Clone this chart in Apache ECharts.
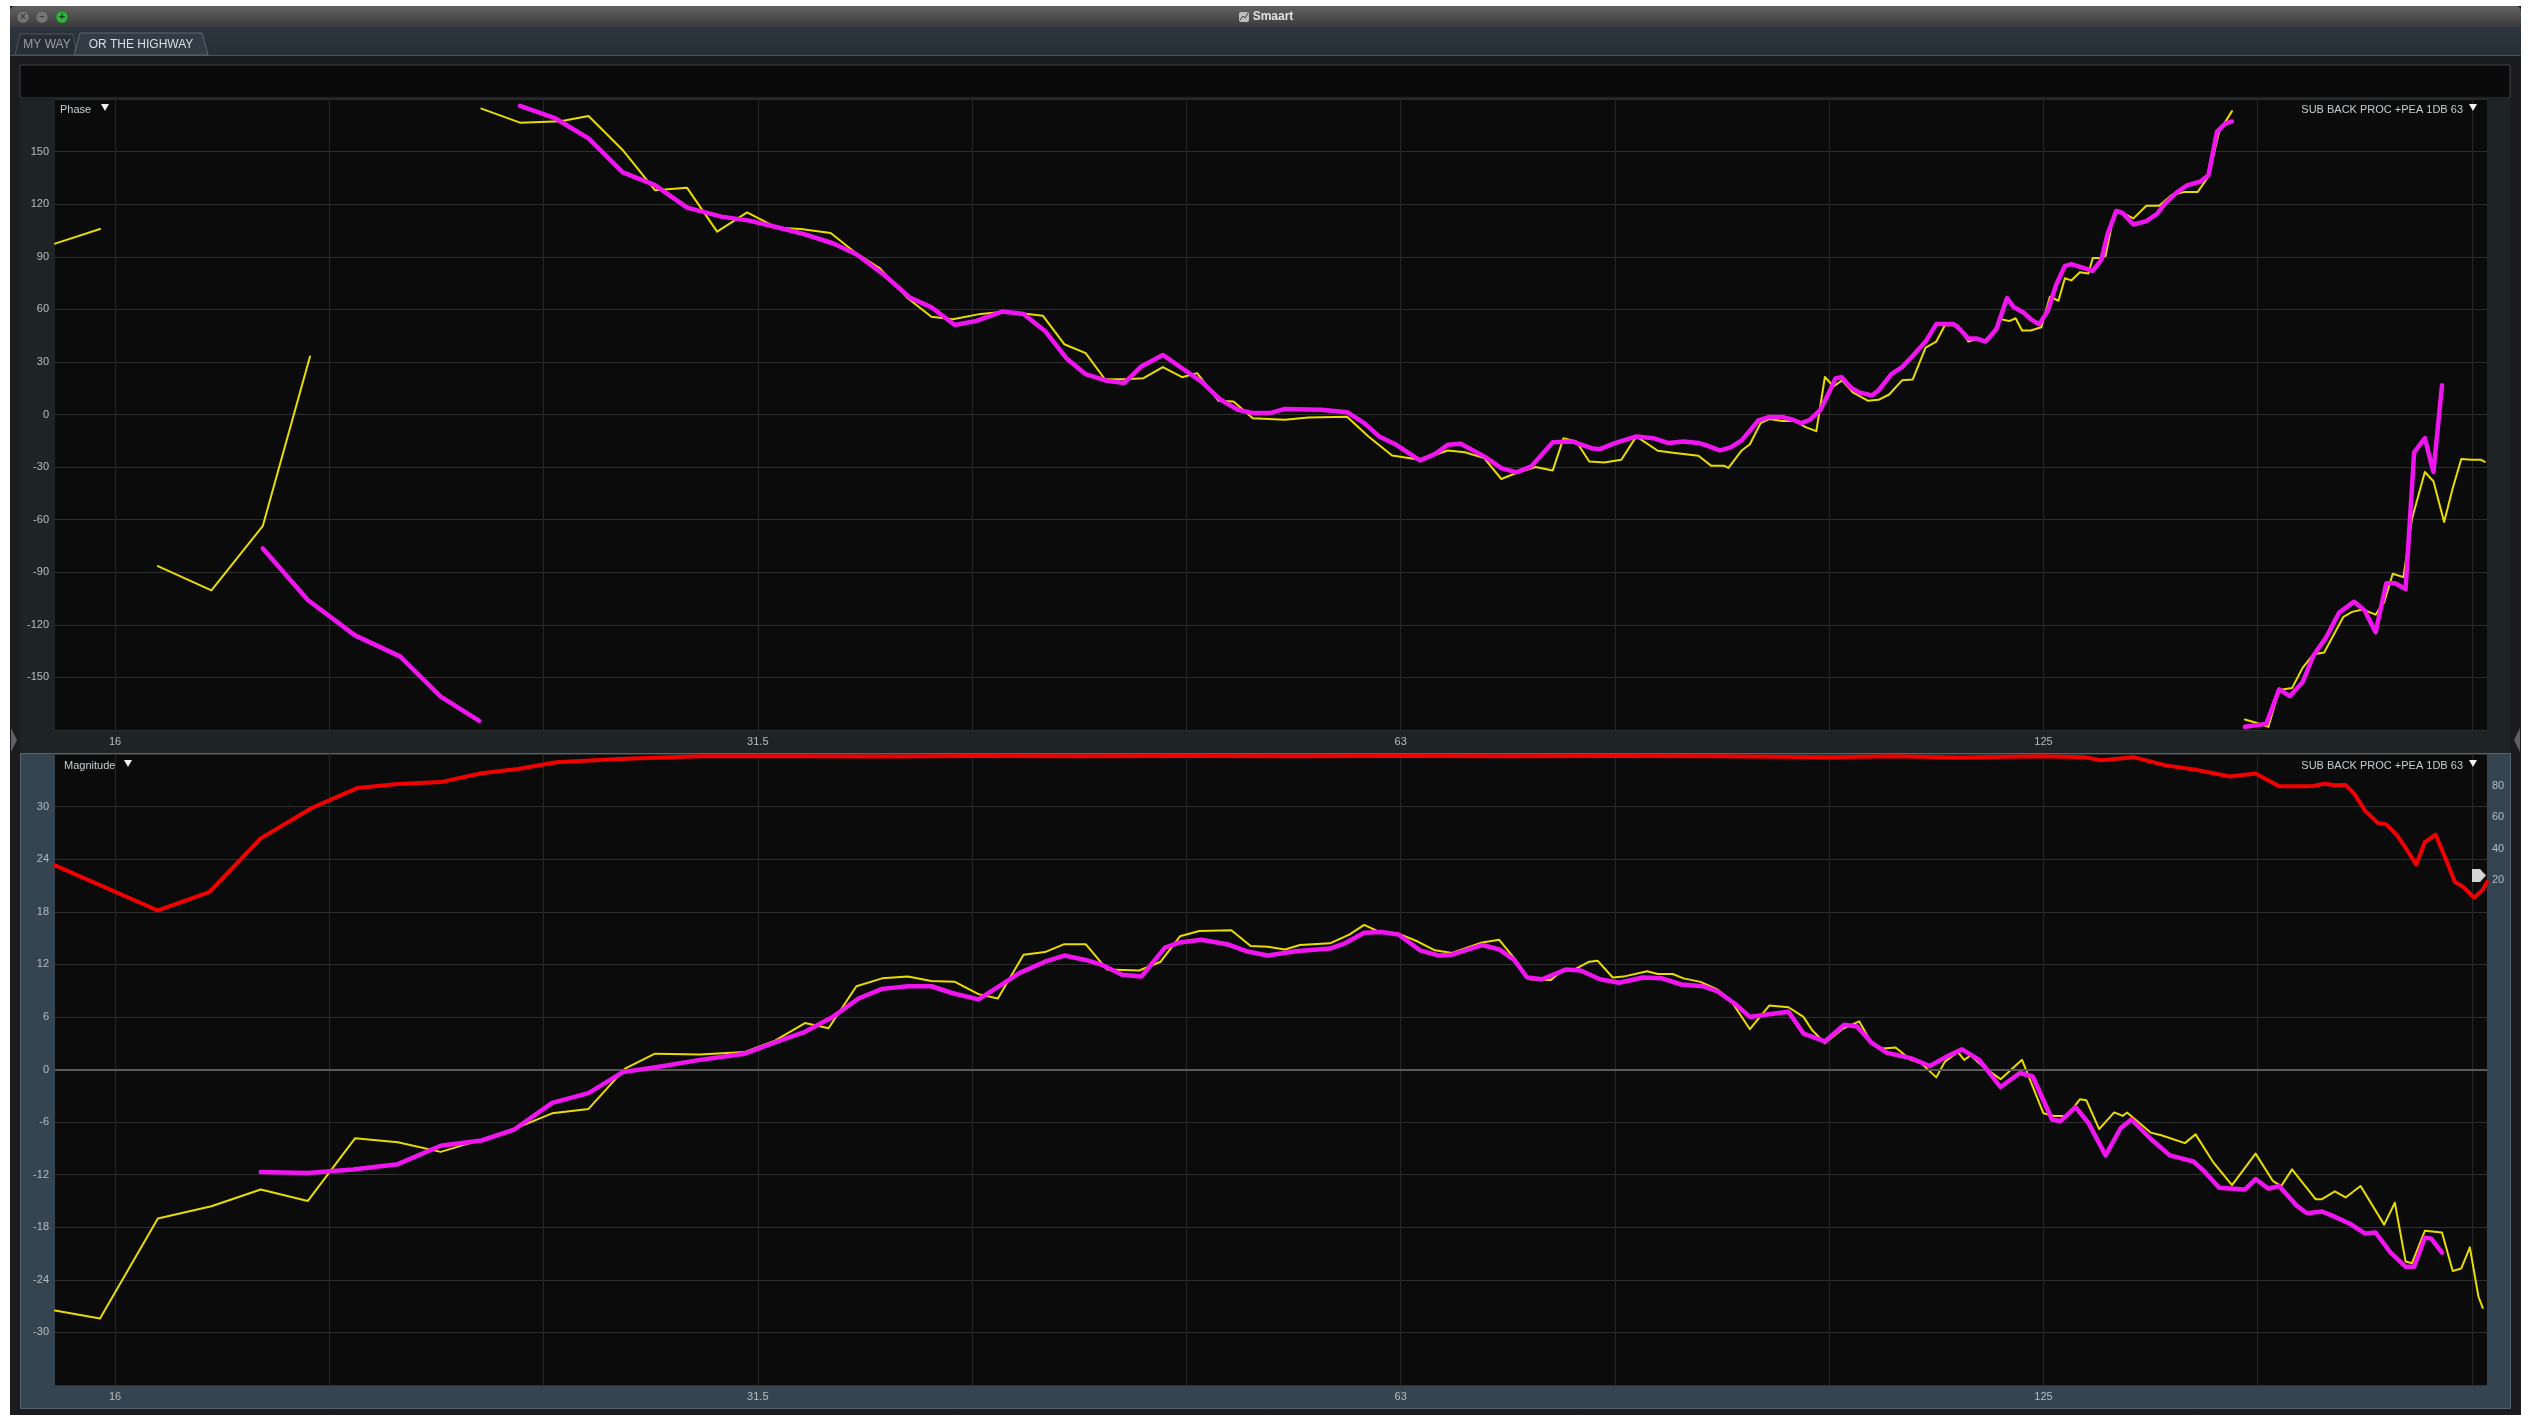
<!DOCTYPE html>
<html>
<head>
<meta charset="utf-8">
<script src="https://cdn.jsdelivr.net/npm/echarts@6/dist/echarts.min.js"></script>
<style>
  html, body { margin: 0; padding: 0; background: #ffffff; }
  #chart { width: 2536px; height: 1415px; }
</style>
</head>
<body>
<div id="chart"></div>
<script>
// Frequency positions are 1/3-octave band numbers (band = 10*log10(Hz)):
// band 12 = 16 Hz, 15 = 31.5 Hz, 18 = 63 Hz, 21 = 125 Hz.
const gridBands = [12, 13, 14, 15, 16, 17, 18, 19, 20, 21, 22, 23];
const freqLabelBands = [12, 15, 18, 21];
const freqLabels = ['16', '31.5', '63', '125'];
const bandMin = 11.72;
const bandMax = 23.07;

// ---- Phase (degrees), yellow trace, split where the phase wraps ----
const phaseYellowLow1 = [[11.72, 97.5], [11.93, 105.8]];
const phaseYellowLow2 = [[12.20, -86.5], [12.45, -100.3], [12.69, -63.5], [12.91, 33.1]];
const phaseYellowMain = [
  [13.71, 174.5], [13.89, 166.5], [14.08, 167.3], [14.21, 170.3], [14.37, 150.8], [14.52, 128], [14.67, 129.3],
  [14.81, 104.3], [14.95, 115.3], [15.09, 106.5], [15.20, 105.8], [15.34, 103.5], [15.46, 91.9], [15.57, 83.4],
  [15.70, 66.3], [15.81, 55.8], [15.91, 54.3], [16.04, 57.4], [16.16, 58.7], [16.33, 56.4], [16.43, 40.1],
  [16.53, 35], [16.62, 20.1], [16.71, 20.1], [16.80, 20.7], [16.89, 27], [16.98, 21.3], [17.05, 23.6],
  [17.15, 7.8], [17.22, 7.4], [17.31, -2.1], [17.46, -3], [17.57, -1.7], [17.75, -1.3], [17.85, -12.5],
  [17.96, -23.4], [18.09, -25.8], [18.22, -20.5], [18.30, -21.5], [18.39, -24.9], [18.47, -36.8], [18.54, -33.4],
  [18.63, -30], [18.71, -31.9], [18.76, -13.5], [18.82, -15.4], [18.88, -26.8], [18.95, -27.4], [19.03, -25.8],
  [19.10, -12.5], [19.20, -20.7], [19.28, -22], [19.39, -23.5], [19.45, -29.3], [19.51, -29.3], [19.53, -30.5],
  [19.59, -20.7], [19.63, -17], [19.68, -4.9], [19.72, -2.6], [19.78, -3.7], [19.84, -3.7], [19.89, -7.2],
  [19.94, -9.5], [19.98, 21.4], [20.02, 16], [20.06, 19.5], [20.11, 12.6], [20.18, 7.9], [20.23, 8.4],
  [20.28, 11.4], [20.34, 19.5], [20.39, 20], [20.45, 38.1], [20.50, 41.6], [20.54, 50.9], [20.60, 50.9],
  [20.65, 41.6], [20.68, 42.8], [20.73, 41.6], [20.77, 47.5], [20.80, 54.4], [20.84, 53.3], [20.87, 54.9],
  [20.90, 47.9], [20.94, 47.9], [20.99, 49.8], [21.03, 67.2], [21.07, 64.9], [21.10, 77.7], [21.13, 76.5],
  [21.17, 81.2], [21.21, 80.5], [21.23, 89.3], [21.27, 89.3], [21.29, 90.5], [21.33, 114.9], [21.37, 114.9],
  [21.42, 111.9], [21.48, 119.1], [21.54, 119.1], [21.60, 125.4], [21.66, 127], [21.72, 127], [21.77, 135.8],
  [21.82, 161.4], [21.88, 173.1]
];
const phaseYellowHigh = [
  [21.94, -174], [21.98, -175.4], [22.05, -178.2], [22.10, -157.2], [22.16, -156.1], [22.21, -144.4],
  [22.26, -136.8], [22.31, -135.8], [22.40, -115.4], [22.44, -112.6], [22.49, -111.2], [22.55, -114.2],
  [22.59, -107.2], [22.63, -90.9], [22.68, -92.8], [22.72, -59.5], [22.78, -32.8], [22.82, -38.1],
  [22.87, -61.4], [22.91, -42.1], [22.95, -25.4], [23.00, -25.8], [23.04, -25.8], [23.06, -27]
];

// ---- Phase (degrees), magenta trace ----
const phaseMagentaLow = [[12.69, -76.4], [12.90, -105.8], [13.12, -126], [13.33, -138], [13.52, -161], [13.70, -174.8]];
const phaseMagentaMain = [
  [13.89, 176.1], [14.05, 169.3], [14.21, 157.5], [14.37, 138.1], [14.52, 130.9], [14.67, 118], [14.83, 112.9],
  [14.96, 110.6], [15.09, 106.8], [15.22, 102.8], [15.35, 97.7], [15.46, 91.4], [15.59, 79.6], [15.71, 66.7],
  [15.81, 61.2], [15.92, 51.1], [16.02, 53.4], [16.14, 58.7], [16.24, 57.4], [16.34, 47.7], [16.44, 32.1],
  [16.53, 23], [16.63, 19.2], [16.71, 17.9], [16.79, 27.4], [16.89, 34], [16.98, 26.4], [17.07, 18.8],
  [17.16, 8.4], [17.24, 2.7], [17.31, 0.8], [17.39, 0.8], [17.46, 3.2], [17.63, 2.7], [17.75, 1.3],
  [17.83, -4.9], [17.90, -12.5], [17.98, -17.3], [18.09, -26.2], [18.16, -22.6], [18.22, -17.3], [18.28, -16.7],
  [18.39, -23.9], [18.47, -30.6], [18.54, -33], [18.61, -29.6], [18.71, -15.8], [18.80, -15.4], [18.89, -19.2],
  [18.93, -19.8], [19.00, -16.3], [19.10, -12.5], [19.18, -13.5], [19.25, -16.3], [19.32, -15.4], [19.39, -16.2],
  [19.43, -17.7], [19.49, -20.5], [19.54, -18.8], [19.59, -14.9], [19.62, -10.7], [19.67, -3.3], [19.72, -1.4],
  [19.78, -1.4], [19.83, -3], [19.87, -4.9], [19.91, -3], [19.96, 2.8], [19.99, 10.2], [20.03, 20.7],
  [20.06, 21.2], [20.10, 15.4], [20.14, 12.6], [20.20, 10.9], [20.23, 13.7], [20.29, 23], [20.34, 27],
  [20.39, 33.5], [20.45, 41.6], [20.50, 51.6], [20.58, 51.6], [20.61, 48.6], [20.65, 43.3], [20.69, 43.3],
  [20.73, 41.6], [20.78, 48.6], [20.83, 66.5], [20.86, 61.4], [20.91, 57.9], [20.94, 54.4], [20.98, 51.4],
  [21.02, 59.1], [21.06, 74.2], [21.10, 84.7], [21.13, 85.8], [21.19, 83.5], [21.23, 81.9], [21.27, 88.2],
  [21.30, 103.3], [21.34, 116.1], [21.37, 114.9], [21.42, 108.4], [21.48, 110.3], [21.53, 114.4], [21.57, 120.7],
  [21.62, 126.5], [21.67, 130.7], [21.73, 132.8], [21.77, 136.5], [21.81, 161.4], [21.85, 166.1], [21.88, 167.2]
];
const phaseMagentaHigh = [
  [21.94, -178.2], [22.04, -176.5], [22.10, -156.8], [22.15, -160.7], [22.21, -152.6], [22.26, -137.5],
  [22.32, -127], [22.38, -113], [22.45, -106.8], [22.50, -111.9], [22.55, -124.2], [22.60, -96.3],
  [22.64, -96.3], [22.69, -99.6], [22.73, -21.6], [22.78, -13.5], [22.82, -32.8], [22.86, 16.7]
];

// ---- Magnitude (dB) ----
const magYellow = [
  [11.72, -27.5], [11.93, -28.4], [12.20, -17.0], [12.45, -15.6], [12.68, -13.7], [12.90, -15.0], [13.12, -7.85],
  [13.32, -8.3], [13.52, -9.4], [13.71, -8.0], [13.88, -6.6], [14.04, -5.0], [14.21, -4.5], [14.38, 0.1],
  [14.52, 1.8], [14.73, 1.7], [14.94, 2.0], [15.08, 3.3], [15.22, 5.3], [15.33, 4.7], [15.46, 9.5],
  [15.58, 10.4], [15.70, 10.6], [15.81, 10.1], [15.92, 10.0], [16.03, 8.6], [16.12, 8.1], [16.24, 13.1],
  [16.34, 13.4], [16.43, 14.3], [16.53, 14.3], [16.63, 11.4], [16.78, 11.3], [16.88, 12.3], [16.97, 15.2],
  [17.06, 15.8], [17.21, 15.9], [17.30, 14.1], [17.38, 14.0], [17.46, 13.7], [17.53, 14.2], [17.67, 14.4],
  [17.76, 15.4], [17.83, 16.5], [17.90, 15.7], [17.99, 15.5], [18.08, 14.6], [18.16, 13.6], [18.24, 13.3],
  [18.38, 14.5], [18.46, 14.8], [18.53, 12.7], [18.60, 10.3], [18.70, 10.2], [18.76, 11.4], [18.81, 11.4],
  [18.88, 12.3], [18.92, 12.4], [18.99, 10.5], [19.04, 10.6], [19.15, 11.2], [19.20, 10.9], [19.27, 10.9],
  [19.32, 10.4], [19.40, 10.0], [19.48, 9.1], [19.54, 7.9], [19.63, 4.6], [19.72, 7.3], [19.81, 7.1],
  [19.88, 6.0], [19.92, 4.5], [19.98, 3.0], [20.06, 4.6], [20.14, 5.5], [20.20, 2.9], [20.25, 2.4],
  [20.31, 2.5], [20.38, 1.1], [20.43, 0.7], [20.50, -0.9], [20.54, 0.9], [20.60, 2.0], [20.63, 1.1],
  [20.66, 1.6], [20.73, 0.1], [20.80, -1.1], [20.90, 1.1], [21.00, -5.0], [21.05, -5.3], [21.11, -5.3],
  [21.17, -3.4], [21.20, -3.5], [21.26, -6.8], [21.33, -4.9], [21.37, -5.3], [21.39, -4.9], [21.50, -7.2],
  [21.55, -7.5], [21.66, -8.4], [21.71, -7.4], [21.79, -10.5], [21.88, -13.2], [21.99, -9.6], [22.07, -12.7],
  [22.11, -13.3], [22.16, -11.4], [22.27, -14.8], [22.30, -14.8], [22.36, -13.9], [22.41, -14.6], [22.48, -13.3],
  [22.59, -17.7], [22.64, -15.2], [22.69, -21.9], [22.72, -22.1], [22.78, -18.4], [22.86, -18.6], [22.91, -23.0],
  [22.95, -22.7], [22.99, -20.3], [23.03, -25.9], [23.05, -27.2]
];
const magMagenta = [
  [12.68, -11.7], [12.90, -11.8], [13.11, -11.4], [13.32, -10.8], [13.52, -8.7], [13.71, -8.1], [13.86, -6.9],
  [14.04, -3.8], [14.21, -2.7], [14.37, -0.3], [14.56, 0.4], [14.73, 1.1], [14.94, 1.8], [15.08, 3.1],
  [15.22, 4.3], [15.35, 6.0], [15.47, 8.1], [15.58, 9.2], [15.70, 9.5], [15.81, 9.5], [15.91, 8.7],
  [16.03, 8.0], [16.12, 9.4], [16.22, 11.0], [16.34, 12.3], [16.43, 13.0], [16.53, 12.5], [16.61, 11.9],
  [16.70, 10.8], [16.79, 10.6], [16.90, 13.9], [16.97, 14.5], [17.07, 14.8], [17.19, 14.3], [17.28, 13.5],
  [17.38, 13.0], [17.51, 13.5], [17.67, 13.8], [17.74, 14.4], [17.83, 15.6], [17.91, 15.7], [17.99, 15.4],
  [18.09, 13.6], [18.18, 13.0], [18.24, 13.1], [18.38, 14.2], [18.46, 13.7], [18.53, 12.5], [18.59, 10.5],
  [18.66, 10.3], [18.77, 11.4], [18.84, 11.3], [18.93, 10.3], [19.02, 9.9], [19.13, 10.5], [19.22, 10.4],
  [19.31, 9.7], [19.41, 9.5], [19.48, 8.9], [19.56, 7.5], [19.63, 6.0], [19.72, 6.3], [19.81, 6.6],
  [19.88, 4.1], [19.98, 3.2], [20.07, 5.1], [20.13, 4.9], [20.20, 3.0], [20.27, 1.9], [20.38, 1.3],
  [20.47, 0.4], [20.55, 1.5], [20.62, 2.3], [20.70, 1.1], [20.80, -2.0], [20.89, -0.4], [20.95, -0.8],
  [21.04, -5.7], [21.08, -5.9], [21.15, -4.3], [21.21, -6.1], [21.29, -9.8], [21.36, -6.7], [21.41, -5.7],
  [21.50, -7.9], [21.59, -9.8], [21.70, -10.5], [21.75, -11.6], [21.82, -13.5], [21.94, -13.7], [21.99, -12.5],
  [22.05, -13.6], [22.10, -13.3], [22.18, -15.5], [22.23, -16.4], [22.30, -16.2], [22.35, -16.7], [22.43, -17.6],
  [22.50, -18.7], [22.55, -18.6], [22.62, -20.9], [22.69, -22.5], [22.73, -22.5], [22.78, -19.2], [22.81, -19.3],
  [22.86, -20.9]
];

// ---- Coherence (%), right-hand scale ----
const coherence = [
  [11.72, 29.4], [12.20, 0.8], [12.44, 12.5], [12.68, 46.5], [12.92, 65.9], [13.13, 78.4], [13.32, 81],
  [13.52, 82.2], [13.71, 87.8], [13.88, 90.5], [14.06, 94.8], [14.35, 96.8], [14.73, 98.5], [15.2, 98.6],
  [15.6, 98.4], [16.0, 98.7], [16.5, 98.5], [17.0, 98.8], [17.5, 98.6], [18.0, 98.7], [18.5, 98.5],
  [19.0, 98.8], [19.5, 98.6], [20.0, 98.0], [20.3, 98.5], [20.6, 97.8], [21.0, 98.5], [21.19, 98],
  [21.27, 96], [21.42, 98], [21.57, 92.8], [21.72, 89.8], [21.87, 85.7], [21.99, 87.7], [22.10, 79.5],
  [22.20, 79.5], [22.26, 79.7], [22.31, 81.2], [22.36, 80.2], [22.41, 80.4], [22.45, 74.9], [22.50, 64.3],
  [22.56, 56.3], [22.60, 55.4], [22.65, 48.4], [22.69, 40.6], [22.74, 29.9], [22.78, 44.2], [22.83, 48.9],
  [22.88, 32.6], [22.92, 18.8], [22.96, 15.7], [23.01, 8.9], [23.05, 14], [23.07, 18.8]
];

const traceLabel = 'SUB BACK PROC +PEA 1DB 63';

// ---- styles & layout ----
const YELLOW = '#e9dc00';
const MAGENTA = '#f014f0';
const RED = '#f20000';
const LABEL = '#b9bdc1';
const FONT = "'Liberation Sans', Arial, sans-serif";

const plotLeft = 55, plotWidth = 2432;
const phaseTop = 99, magTop = 754, plotHeight = 631;

const chart = echarts.init(document.getElementById('chart'), null, { renderer: 'canvas', width: 2536, height: 1415 });

function lineSeries(data, xi, yi, color, width, z) {
  return {
    type: 'line', xAxisIndex: xi, yAxisIndex: yi, data: data,
    symbol: 'none', showSymbol: false, silent: true, animation: false, z: z, clip: true,
    lineStyle: { color: color, width: width, join: 'round', cap: 'round' }
  };
}

function freqAxis(gridIndex) {
  return {
    type: 'value', gridIndex: gridIndex, min: bandMin, max: bandMax,
    axisLine: { show: false },
    axisTick: { show: false, customValues: gridBands },
    axisLabel: {
      customValues: freqLabelBands,
      formatter: function (v) {
        const i = freqLabelBands.indexOf(Math.round(v));
        return i >= 0 ? freqLabels[i] : '';
      },
      color: LABEL, fontSize: 11, fontFamily: FONT, margin: 6
    },
    splitLine: { show: true, lineStyle: { color: '#272727', width: 1 } }
  };
}

function downTri(x, y) {
  return { type: 'polygon', z: 100, shape: { points: [[x, y], [x + 8, y], [x + 4, y + 7]] }, style: { fill: '#f0f0f0' } };
}
function txt(x, y, text, font, color, align) {
  return { type: 'text', x: x, y: y, z: 100, style: { text: text, font: font, fill: color, align: align || 'left', verticalAlign: 'middle' } };
}

const graphics = [
  // window frame
  { type: 'rect', z: -100, shape: { x: 10, y: 6, width: 2511, height: 1409 }, style: { fill: '#1c1c1f' } },
  // title bar
  { type: 'rect', z: -99, shape: { x: 10, y: 6, width: 2511, height: 21, r: [5, 5, 0, 0] },
    style: { fill: new echarts.graphic.LinearGradient(0, 0, 0, 1, [{ offset: 0, color: '#626262' }, { offset: 1, color: '#3b3b3b' }]) } },
  { type: 'circle', z: 100, shape: { cx: 23, cy: 17, r: 6 }, style: { fill: '#757575', stroke: '#555', lineWidth: 1 } },
  { type: 'circle', z: 100, shape: { cx: 42, cy: 17, r: 6 }, style: { fill: '#757575', stroke: '#555', lineWidth: 1 } },
  { type: 'circle', z: 100, shape: { cx: 62, cy: 17, r: 6 }, style: { fill: '#35b043', stroke: '#1f7a2a', lineWidth: 1 } },
  txt(23, 17, '×', "bold 10px " + FONT, '#3e3e3e', 'center'),
  txt(42, 17, '–', "bold 10px " + FONT, '#3e3e3e', 'center'),
  txt(62, 17, '+', "bold 11px " + FONT, '#0d3d12', 'center'),
  { type: 'rect', z: 100, shape: { x: 1239, y: 12, width: 10, height: 10, r: 2 }, style: { fill: '#bdbdbd' } },
  { type: 'polyline', z: 101, shape: { points: [[1240, 20], [1243, 16], [1245, 18], [1248, 13]] }, style: { stroke: '#3a3a3a', lineWidth: 1 } },
  txt(1273, 17, 'Smaart', "bold 12px " + FONT, '#e2e2e2', 'center'),
  // tab bar
  { type: 'rect', z: -99, shape: { x: 10, y: 27, width: 2511, height: 28 },
    style: { fill: new echarts.graphic.LinearGradient(0, 0, 0, 1, [{ offset: 0, color: '#2d3640' }, { offset: 1, color: '#262e36' }]) } },
  { type: 'polygon', z: 10, shape: { points: [[15, 55], [20, 34], [73, 34], [77, 55]] }, style: { fill: '#262d35', stroke: '#4b545d', lineWidth: 1 } },
  { type: 'polygon', z: 11, shape: { points: [[74, 55], [80, 33], [202, 33], [208, 55]] }, style: { fill: '#323c46', stroke: '#5d6772', lineWidth: 1 } },
  txt(47, 45, 'MY WAY', "12px " + FONT, '#9ba1a7', 'center'),
  txt(141, 45, 'OR THE HIGHWAY', "12px " + FONT, '#dadee2', 'center'),
  { type: 'rect', z: -98, shape: { x: 10, y: 55, width: 2511, height: 1 }, style: { fill: '#4a535c' } },
  // empty strip above the plots
  { type: 'rect', z: -98, shape: { x: 20, y: 65, width: 2490, height: 33 }, style: { fill: '#0a0a0a', stroke: '#3d444b', lineWidth: 1 } },
  // phase panel background (axis bands)
  { type: 'rect', z: -98, shape: { x: 20, y: 98, width: 2490, height: 655 }, style: { fill: '#1e2426' } },
  // magnitude panel background (axis bands)
  { type: 'rect', z: -98, shape: { x: 20.5, y: 753.5, width: 2490, height: 655 }, style: { fill: '#344450', stroke: '#56636e', lineWidth: 1 } },
  // plot areas
  { type: 'rect', z: -97, shape: { x: plotLeft, y: phaseTop, width: plotWidth, height: plotHeight }, style: { fill: '#0b0b0b' } },
  { type: 'rect', z: -97, shape: { x: plotLeft, y: magTop, width: plotWidth, height: plotHeight }, style: { fill: '#0b0b0b' } },
  // side handles
  { type: 'polygon', z: 100, shape: { points: [[11, 728], [17, 740], [11, 752]] }, style: { fill: '#5e6266' } },
  { type: 'polygon', z: 100, shape: { points: [[2520, 728], [2514, 740], [2520, 752]] }, style: { fill: '#5e6266' } },
  // plot captions
  txt(60, 110, 'Phase', "11px " + FONT, '#c9cccf'),
  downTri(101, 104),
  txt(2463, 110, traceLabel, "11px " + FONT, '#c9cccf', 'right'),
  downTri(2469, 104),
  txt(64, 766, 'Magnitude', "11px " + FONT, '#c9cccf'),
  downTri(124, 760),
  txt(2463, 766, traceLabel, "11px " + FONT, '#c9cccf', 'right'),
  downTri(2469, 760),
  // coherence threshold marker
  { type: 'polygon', z: 100, shape: { points: [[2472, 869], [2480, 869], [2486, 875.5], [2480, 882], [2472, 882]] }, style: { fill: '#d4d4d4' } }
];

const option = {
  animation: false,
  backgroundColor: 'transparent',
  graphic: graphics,
  grid: [
    { left: plotLeft, top: phaseTop, width: plotWidth, height: plotHeight, show: false },
    { left: plotLeft, top: magTop, width: plotWidth, height: plotHeight, show: false }
  ],
  xAxis: [freqAxis(0), freqAxis(1)],
  yAxis: [
    {
      type: 'value', gridIndex: 0, min: -180, max: 180, interval: 30,
      axisLine: { show: false }, axisTick: { show: false },
      axisLabel: { showMinLabel: false, showMaxLabel: false, color: LABEL, fontSize: 11, fontFamily: FONT, margin: 6 },
      splitLine: { lineStyle: { color: '#2f2f2f', width: 1 } }
    },
    {
      type: 'value', gridIndex: 1, min: -36, max: 36, interval: 6,
      axisLine: { show: false }, axisTick: { show: false },
      axisLabel: { showMinLabel: false, showMaxLabel: false, color: LABEL, fontSize: 11, fontFamily: FONT, margin: 6 },
      splitLine: { lineStyle: { color: '#2f2f2f', width: 1 } }
    },
    {
      type: 'value', gridIndex: 1, position: 'right', min: -300, max: 100, interval: 20,
      axisLine: { show: false }, axisTick: { show: false },
      axisLabel: {
        formatter: function (v) { return (v >= 20 && v <= 80) ? String(v) : ''; },
        color: LABEL, fontSize: 11, fontFamily: FONT, margin: 5
      },
      splitLine: { show: false }
    }
  ],
  series: [
    // 0 dB reference line
    {
      type: 'line', xAxisIndex: 1, yAxisIndex: 1, data: [], z: 1, silent: true,
      markLine: {
        silent: true, symbol: ['none', 'none'], animation: false, label: { show: false },
        lineStyle: { color: '#5a5a5a', width: 2, type: 'solid' },
        data: [{ yAxis: 0 }]
      }
    },
    lineSeries(phaseYellowLow1, 0, 0, YELLOW, 2, 4),
    lineSeries(phaseYellowLow2, 0, 0, YELLOW, 2, 4),
    lineSeries(phaseYellowMain, 0, 0, YELLOW, 2, 4),
    lineSeries(phaseYellowHigh, 0, 0, YELLOW, 2, 4),
    lineSeries(phaseMagentaLow, 0, 0, MAGENTA, 4.5, 5),
    lineSeries(phaseMagentaMain, 0, 0, MAGENTA, 4.5, 5),
    lineSeries(phaseMagentaHigh, 0, 0, MAGENTA, 4.5, 5),
    lineSeries(coherence, 1, 2, RED, 4, 3),
    lineSeries(magYellow, 1, 1, YELLOW, 2, 4),
    lineSeries(magMagenta, 1, 1, MAGENTA, 4.5, 5)
  ]
};

chart.setOption(option);
</script>
</body>
</html>
